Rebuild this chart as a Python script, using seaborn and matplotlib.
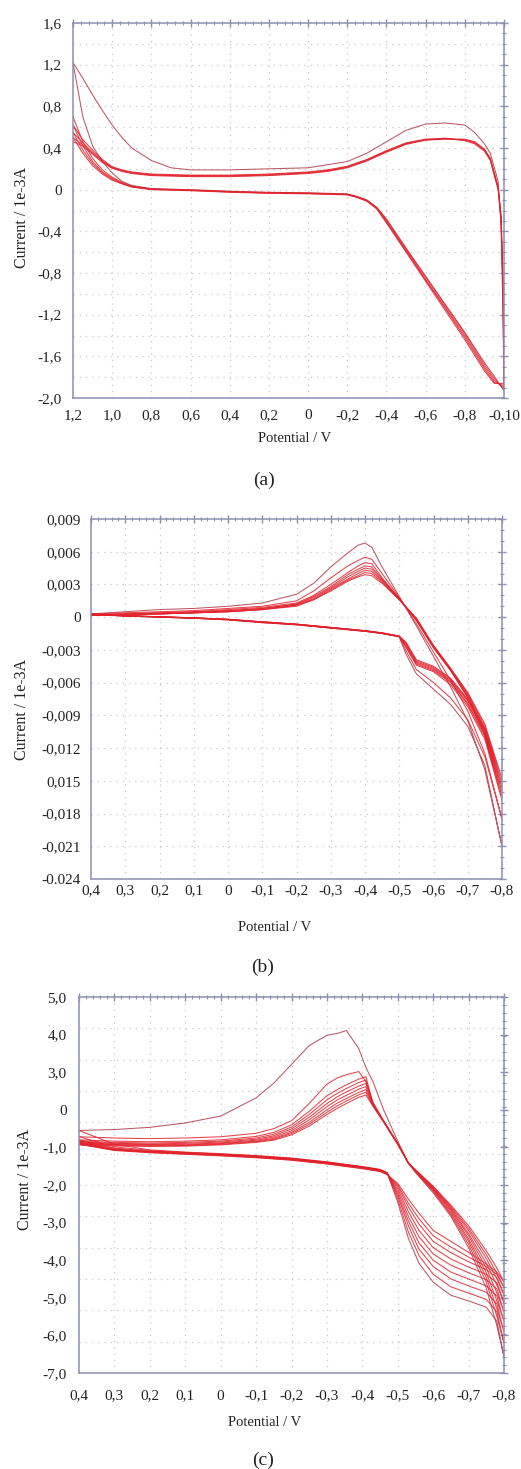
import matplotlib
matplotlib.use("Agg")
import matplotlib.pyplot as plt
from matplotlib.ticker import FixedLocator, MultipleLocator
import numpy as np
import pandas as pd
import seaborn as sns

# ---------------- panel (a) ----------------
A_X_FWD = [1.2, 1.15, 1.1, 1.05, 1.0, 0.95, 0.9, 0.8, 0.6, 0.4, 0.2, 0.0,
           -0.2, -0.25, -0.3, -0.35, -0.4, -0.5, -0.6, -0.7, -0.8, -0.9, -0.95, -1.0]
A_X_REV = [-1.0, -0.995, -0.985, -0.97, -0.93, -0.9, -0.85, -0.8, -0.7, -0.6, -0.5,
           -0.4, -0.3, -0.2, -0.1, 0.0, 0.2, 0.4, 0.6, 0.7, 0.8, 0.85, 0.9, 0.95,
           1.0, 1.05, 1.1, 1.15, 1.2]
A_FWD = [
    [1.22, 0.70, 0.42, 0.27, 0.16, 0.08, 0.04, 0.01, 0.0, -0.015, -0.025, -0.03,
     -0.04, -0.065, -0.10, -0.17, -0.28, -0.56, -0.83, -1.10, -1.37, -1.66, -1.79, -1.93],
    [0.70, 0.46, 0.30, 0.19, 0.12, 0.07, 0.035, 0.008, -0.003, -0.018, -0.028, -0.033,
     -0.043, -0.068, -0.10, -0.17, -0.29, -0.57, -0.84, -1.11, -1.38, -1.68, -1.81, -1.92],
    [0.62, 0.42, 0.27, 0.17, 0.11, 0.065, 0.03, 0.005, -0.005, -0.02, -0.03, -0.035,
     -0.045, -0.07, -0.105, -0.175, -0.30, -0.58, -0.86, -1.13, -1.40, -1.70, -1.83, -1.90],
    [0.55, 0.38, 0.25, 0.16, 0.10, 0.06, 0.028, 0.003, -0.007, -0.022, -0.032, -0.037,
     -0.047, -0.072, -0.11, -0.18, -0.31, -0.59, -0.87, -1.14, -1.42, -1.72, -1.85, -1.88],
    [0.50, 0.35, 0.23, 0.15, 0.09, 0.055, 0.025, 0.0, -0.01, -0.025, -0.035, -0.04,
     -0.05, -0.075, -0.11, -0.185, -0.32, -0.60, -0.88, -1.16, -1.44, -1.74, -1.86, -1.86],
]
A_REV = [
    [-1.93, -1.2, -0.35, 0.08, 0.35, 0.44, 0.55, 0.62, 0.64, 0.63, 0.57, 0.46, 0.35,
     0.27, 0.24, 0.21, 0.20, 0.19, 0.19, 0.21, 0.28, 0.34, 0.40, 0.50, 0.62, 0.76, 0.91, 1.07, 1.22],
    [-1.92, -1.0, -0.30, 0.0, 0.28, 0.37, 0.44, 0.47, 0.495, 0.485, 0.45, 0.375, 0.29,
     0.225, 0.19, 0.17, 0.15, 0.14, 0.14, 0.145, 0.15, 0.16, 0.17, 0.19, 0.22, 0.29, 0.38, 0.48, 0.62],
    [-1.90, -0.95, -0.28, 0.01, 0.29, 0.38, 0.45, 0.475, 0.49, 0.48, 0.445, 0.37, 0.285,
     0.22, 0.185, 0.165, 0.145, 0.135, 0.135, 0.14, 0.145, 0.155, 0.165, 0.185, 0.215, 0.28, 0.36, 0.45, 0.55],
    [-1.88, -0.90, -0.26, 0.02, 0.30, 0.385, 0.455, 0.48, 0.488, 0.478, 0.44, 0.365, 0.28,
     0.215, 0.18, 0.16, 0.14, 0.13, 0.13, 0.135, 0.14, 0.15, 0.16, 0.18, 0.21, 0.27, 0.35, 0.43, 0.50],
    [-1.86, -0.85, -0.25, 0.03, 0.30, 0.39, 0.46, 0.485, 0.485, 0.475, 0.435, 0.36, 0.275,
     0.21, 0.175, 0.155, 0.135, 0.125, 0.125, 0.13, 0.135, 0.145, 0.155, 0.175, 0.205, 0.26, 0.34, 0.42, 0.46],
]
A_XTICKS = [1.2, 1.0, 0.8, 0.6, 0.4, 0.2, 0.0, -0.2, -0.4, -0.6, -0.8, -1.0]
A_XLABELS = ["1,2", "1,0", "0,8", "0,6", "0,4", "0,2", "0", "-0,2", "-0,4", "-0,6", "-0,8", "-0,10"]
A_YTICKS = [1.6, 1.2, 0.8, 0.4, 0.0, -0.4, -0.8, -1.2, -1.6, -2.0]
A_YLABELS = ["1,6", "1,2", "0,8", "0,4", "0", "-0,4", "-0,8", "-1,2", "-1,6", "-2,0"]

# ---------------- panel (b) ----------------
B_X_FWD = [0.4, 0.3, 0.2, 0.1, 0.0, -0.1, -0.2, -0.3, -0.4, -0.45, -0.5,
           -0.52, -0.55, -0.6, -0.65, -0.7, -0.75, -0.8]
B_X_REV = [-0.8, -0.75, -0.7, -0.65, -0.6, -0.55, -0.5, -0.45, -0.42, -0.4, -0.38,
           -0.35, -0.3, -0.25, -0.2, -0.1, 0.0, 0.1, 0.2, 0.3, 0.4]
B_FWD = [
    [0.0003, 0.0001, 0.0, -0.0001, -0.00025, -0.0005, -0.0007, -0.0010, -0.0013, -0.0015, -0.0018,
     -0.0034, -0.0052, -0.0066, -0.0080, -0.0100, -0.0136, -0.0210],
    [0.0003, 0.0001, 0.0, -0.0001, -0.00025, -0.0005, -0.0007, -0.0010, -0.0013, -0.0015, -0.0018,
     -0.0031, -0.0048, -0.0060, -0.0074, -0.0094, -0.0128, -0.0185],
    [0.0003, 0.00012, 0.00002, -0.00008, -0.00022, -0.00047, -0.00068, -0.00098, -0.00128, -0.00148, -0.00178,
     -0.0028, -0.0044, -0.0050, -0.0062, -0.0082, -0.0112, -0.0168],
    [0.0002, 0.00012, 0.00002, -0.00008, -0.00022, -0.00046, -0.00067, -0.00097, -0.00127, -0.00147, -0.00177,
     -0.0027, -0.0043, -0.0049, -0.0060, -0.0080, -0.0110, -0.0164],
    [0.0002, 0.00013, 0.00003, -0.00007, -0.00021, -0.00045, -0.00066, -0.00096, -0.00126, -0.00146, -0.00176,
     -0.0026, -0.0042, -0.0048, -0.0059, -0.0079, -0.0108, -0.0160],
    [0.0002, 0.00013, 0.00003, -0.00007, -0.0002, -0.00044, -0.00065, -0.00095, -0.00125, -0.00145, -0.00175,
     -0.0025, -0.0041, -0.0047, -0.0058, -0.0077, -0.0106, -0.0156],
    [0.0002, 0.00014, 0.00004, -0.00006, -0.0002, -0.00043, -0.00064, -0.00094, -0.00124, -0.00144, -0.00174,
     -0.0024, -0.0040, -0.0046, -0.0057, -0.0076, -0.0104, -0.0152],
    [0.0002, 0.00014, 0.00004, -0.00006, -0.00019, -0.00042, -0.00063, -0.00093, -0.00123, -0.00143, -0.00173,
     -0.0023, -0.0039, -0.0045, -0.0056, -0.0075, -0.0102, -0.0148],
]
B_REV = [
    [-0.0210, -0.0140, -0.0095, -0.0064, -0.0036, -0.0008, 0.0019, 0.0046, 0.0064, 0.0068, 0.0066,
     0.0059, 0.0046, 0.0031, 0.0021, 0.0013, 0.0010, 0.0008, 0.0007, 0.0005, 0.0003],
    [-0.0185, -0.0125, -0.0086, -0.0058, -0.0032, -0.0006, 0.0018, 0.0040, 0.0053, 0.0055, 0.0052,
     0.0047, 0.0036, 0.0024, 0.0015, 0.0010, 0.0008, 0.0006, 0.0005, 0.0004, 0.0003],
    [-0.0168, -0.0108, -0.0074, -0.0049, -0.0028, -0.0003, 0.0017, 0.0036, 0.0049, 0.0050, 0.0047,
     0.0041, 0.0030, 0.0020, 0.0013, 0.0009, 0.0007, 0.0005, 0.0004, 0.0003, 0.0002],
    [-0.0164, -0.0106, -0.0073, -0.0049, -0.0028, -0.0003, 0.0017, 0.0035, 0.0046, 0.0047, 0.0044,
     0.0039, 0.0028, 0.0019, 0.0012, 0.0008, 0.0006, 0.0005, 0.0004, 0.0003, 0.0002],
    [-0.0160, -0.0104, -0.0072, -0.0048, -0.0027, -0.0002, 0.0017, 0.0034, 0.0044, 0.0045, 0.0042,
     0.0037, 0.0027, 0.0018, 0.0012, 0.0008, 0.0006, 0.0004, 0.0003, 0.0003, 0.0002],
    [-0.0156, -0.0102, -0.0071, -0.0048, -0.0027, -0.0002, 0.0016, 0.0033, 0.0042, 0.0043, 0.0040,
     0.0035, 0.0026, 0.0017, 0.0011, 0.0007, 0.0005, 0.0004, 0.0003, 0.0002, 0.0002],
    [-0.0152, -0.0100, -0.0070, -0.0047, -0.0026, -0.0001, 0.0016, 0.0032, 0.0040, 0.0041, 0.0038,
     0.0034, 0.0025, 0.0016, 0.0011, 0.0007, 0.0005, 0.0004, 0.0003, 0.0002, 0.0002],
    [-0.0148, -0.0098, -0.0069, -0.0047, -0.0026, -0.0001, 0.0016, 0.0031, 0.0038, 0.0039, 0.0037,
     0.0033, 0.0024, 0.0016, 0.0010, 0.0007, 0.0005, 0.0004, 0.0003, 0.0002, 0.0002],
]
B_XTICKS = [0.4, 0.3, 0.2, 0.1, 0.0, -0.1, -0.2, -0.3, -0.4, -0.5, -0.6, -0.7, -0.8]
B_XLABELS = ["0,4", "0,3", "0,2", "0,1", "0", "-0,1", "-0,2", "-0,3", "-0,4", "-0,5", "-0,6", "-0,7", "-0,8"]
B_YTICKS = [0.009, 0.006, 0.003, 0.0, -0.003, -0.006, -0.009, -0.012, -0.015, -0.018, -0.021, -0.024]
B_YLABELS = ["0,009", "0,006", "0,003", "0", "-0,003", "-0,006", "-0,009", "-0,012",
             "0,015", "-0,018", "-0,021", "-0.024"]

# ---------------- panel (c) ----------------
C_X_FWD = [0.4, 0.3, 0.2, 0.1, 0.0, -0.1, -0.2, -0.3, -0.4, -0.45, -0.47,
           -0.5, -0.53, -0.56, -0.6, -0.65, -0.7, -0.75, -0.78, -0.8]
C_X_REV = [-0.8, -0.78, -0.75, -0.7, -0.65, -0.6, -0.55, -0.53, -0.5, -0.46, -0.43, -0.41,
           -0.39, -0.355, -0.33, -0.3, -0.25, -0.2, -0.15, -0.1, 0.0, 0.1, 0.2, 0.3, 0.4]
C_FWD = [
    [0.30, 0.12, 0.06, 0.02, -0.03, -0.08, -0.16, -0.28, -0.43, -0.52, -0.62,
     -1.55, -2.70, -3.50, -4.10, -4.52, -4.70, -4.90, -5.35, -6.48],
    [0.74, 0.30, 0.12, 0.05, 0.0, -0.06, -0.14, -0.26, -0.41, -0.50, -0.60,
     -1.45, -2.50, -3.25, -3.85, -4.25, -4.45, -4.65, -5.05, -6.05],
    [0.54, 0.22, 0.10, 0.04, -0.01, -0.07, -0.15, -0.27, -0.42, -0.51, -0.61,
     -1.35, -2.30, -3.05, -3.60, -4.00, -4.22, -4.42, -4.80, -5.70],
    [0.44, 0.18, 0.08, 0.03, -0.02, -0.08, -0.16, -0.28, -0.43, -0.52, -0.62,
     -1.28, -2.15, -2.85, -3.40, -3.78, -4.00, -4.22, -4.55, -5.35],
    [0.40, 0.16, 0.07, 0.02, -0.03, -0.09, -0.17, -0.29, -0.44, -0.53, -0.63,
     -1.20, -2.00, -2.65, -3.20, -3.56, -3.80, -4.02, -4.32, -5.05],
    [0.37, 0.14, 0.06, 0.01, -0.04, -0.10, -0.18, -0.30, -0.45, -0.54, -0.64,
     -1.12, -1.85, -2.45, -3.00, -3.36, -3.62, -3.85, -4.12, -4.75],
    [0.35, 0.13, 0.05, 0.0, -0.05, -0.11, -0.19, -0.31, -0.46, -0.55, -0.65,
     -1.05, -1.70, -2.25, -2.80, -3.16, -3.45, -3.70, -3.95, -4.50],
    [0.33, 0.12, 0.04, -0.01, -0.06, -0.12, -0.20, -0.32, -0.47, -0.56, -0.66,
     -1.00, -1.58, -2.08, -2.62, -2.98, -3.30, -3.60, -3.85, -4.28],
    [0.30, 0.10, 0.03, -0.02, -0.07, -0.13, -0.21, -0.33, -0.48, -0.57, -0.67,
     -0.95, -1.45, -1.90, -2.45, -2.80, -3.15, -3.52, -3.78, -4.10],
]
C_REV = [
    [-6.48, -5.50, -4.30, -3.00, -2.00, -1.25, -0.60, -0.30,
     0.40, 1.40, 2.30, 2.75, 3.35, 3.93, 3.84, 3.78, 3.45, 2.85, 2.25, 1.78, 1.20, 0.98, 0.84, 0.77, 0.74],
    [-6.05, -5.20, -4.10, -2.90, -1.95, -1.20, -0.58, -0.30,
     0.33, 1.05, 1.65, 2.30, 2.62, 2.52, 2.42, 2.22, 1.60, 1.05, 0.80, 0.65, 0.54, 0.50, 0.48, 0.50, 0.54],
    [-5.70, -4.95, -3.95, -2.80, -1.90, -1.18, -0.57, -0.30,
     0.32, 1.04, 1.60, 2.46, 2.38, 2.20, 2.05, 1.85, 1.35, 0.92, 0.68, 0.55, 0.44, 0.40, 0.38, 0.40, 0.44],
    [-5.35, -4.70, -3.80, -2.72, -1.85, -1.15, -0.56, -0.30,
     0.32, 1.04, 1.58, 2.35, 2.27, 2.08, 1.93, 1.72, 1.25, 0.85, 0.62, 0.50, 0.40, 0.36, 0.34, 0.36, 0.40],
    [-5.05, -4.45, -3.65, -2.62, -1.80, -1.12, -0.55, -0.30,
     0.31, 1.03, 1.56, 2.24, 2.16, 1.97, 1.82, 1.60, 1.16, 0.79, 0.57, 0.46, 0.37, 0.33, 0.31, 0.33, 0.37],
    [-4.75, -4.20, -3.50, -2.55, -1.76, -1.10, -0.54, -0.30,
     0.31, 1.03, 1.55, 2.14, 2.06, 1.86, 1.72, 1.50, 1.08, 0.73, 0.53, 0.43, 0.34, 0.30, 0.29, 0.31, 0.35],
    [-4.50, -4.00, -3.35, -2.45, -1.72, -1.08, -0.53, -0.30,
     0.30, 1.02, 1.54, 2.05, 1.96, 1.76, 1.62, 1.40, 1.00, 0.68, 0.49, 0.40, 0.32, 0.28, 0.27, 0.29, 0.33],
    [-4.28, -3.82, -3.22, -2.38, -1.68, -1.06, -0.52, -0.30,
     0.30, 1.02, 1.53, 1.96, 1.88, 1.68, 1.53, 1.32, 0.94, 0.64, 0.46, 0.38, 0.30, 0.26, 0.25, 0.27, 0.30],
    [-4.10, -3.65, -3.10, -2.30, -1.64, -1.04, -0.51, -0.30,
     0.30, 1.01, 1.52, 1.87, 1.80, 1.60, 1.45, 1.25, 0.88, 0.60, 0.43, 0.36, 0.28, 0.24, 0.23, 0.25, 0.28],
]
C_XTICKS = B_XTICKS
C_XLABELS = B_XLABELS
C_YLABELS = ["5,0", "4,0", "3,0", "0", "-1,0", "-2,0", "-3,0", "-4,0", "-5,0", "-6,0", "-7,0"]

W, H = 521, 1469
LINE_RED = "#e2222c"
LINE_DARK = "#b03a48"
SPINE = "#8c8fb2"
GRID = "#c6c7d0"


def cycles_frame(x_fwd, x_rev, fwd, rev):
    rows = []
    for k, (f, r) in enumerate(zip(fwd, rev)):
        xs = list(x_fwd) + list(x_rev)
        ys = list(f) + list(r)
        for i, (x, y) in enumerate(zip(xs, ys)):
            rows.append({"cycle": f"c{k + 1}", "step": i, "potential": x, "current": y})
    return pd.DataFrame(rows)


def draw_cycles(ax, df):
    names = list(dict.fromkeys(df["cycle"]))
    palette = {n: (LINE_DARK if i == 0 else LINE_RED) for i, n in enumerate(names)}
    sns.lineplot(data=df, x="potential", y="current", hue="cycle", palette=palette,
                 estimator=None, sort=False, lw=0.75, alpha=0.85, legend=False, ax=ax)


def px_axes(left, top, right, bottom):
    return [left / W, 1 - bottom / H, (right - left) / W, (bottom - top) / H]


def style_axes(ax, xminor, yminor, xpad, ypad):
    for s in ax.spines.values():
        s.set_color(SPINE)
        s.set_linewidth(1.1)
    ax.xaxis.set_minor_locator(MultipleLocator(xminor))
    ax.yaxis.set_minor_locator(MultipleLocator(yminor))
    ax.tick_params(which="both", direction="inout", color=SPINE, top=True, right=True,
                   labelcolor="#222222", labelsize=11)
    ax.tick_params(which="major", length=6, width=1.0)
    ax.tick_params(which="minor", length=3.5, width=0.8)
    ax.tick_params(axis="x", pad=xpad)
    ax.tick_params(axis="y", pad=ypad)
    ax.set_xlabel("")
    ax.set_ylabel("")


def dotted_grid(ax, xs, ys):
    for x in xs:
        ax.axvline(x, color=GRID, lw=0.9, ls=(0, (1, 4)), zorder=0)
    for y in ys:
        ax.axhline(y, color=GRID, lw=0.9, ls=(0, (1, 4)), zorder=0)


sns.set_theme(style="white")
plt.rcParams["font.family"] = ["Liberation Serif", "DejaVu Serif"]

fig = plt.figure(figsize=(W / 100, H / 100), dpi=100)
fig.patch.set_facecolor("white")

# (a)
ax_a = fig.add_axes(px_axes(73, 23, 504, 398))
draw_cycles(ax_a, cycles_frame(A_X_FWD, A_X_REV, A_FWD, A_REV))
ax_a.set_xlim(1.2, -1.0)
ax_a.set_ylim(-2.0, 1.6)
ax_a.xaxis.set_major_locator(FixedLocator(A_XTICKS))
ax_a.set_xticklabels(A_XLABELS)
ax_a.yaxis.set_major_locator(FixedLocator(A_YTICKS))
ax_a.set_yticklabels(A_YLABELS)
style_axes(ax_a, 0.04, 0.1, 5, 5)
dotted_grid(ax_a, A_XTICKS[1:-1], np.arange(-1.8, 1.5, 0.2))

# (b)
ax_b = fig.add_axes(px_axes(91, 519, 502, 879))
draw_cycles(ax_b, cycles_frame(B_X_FWD, B_X_REV, B_FWD, B_REV))
ax_b.set_xlim(0.4, -0.8)
ax_b.set_ylim(-0.024, 0.009)
ax_b.xaxis.set_major_locator(FixedLocator(B_XTICKS))
ax_b.set_xticklabels(B_XLABELS)
ax_b.yaxis.set_major_locator(FixedLocator(B_YTICKS))
ax_b.set_yticklabels(B_YLABELS)
style_axes(ax_b, 0.02, 0.001, 1, 4.5)
dotted_grid(ax_b, B_XTICKS[1:-1], B_YTICKS[1:-1])

# (c)
ax_c = fig.add_axes(px_axes(79, 997, 504, 1373))
draw_cycles(ax_c, cycles_frame(C_X_FWD, C_X_REV, C_FWD, C_REV))
ax_c.set_xlim(0.4, -0.8)
ax_c.set_ylim(-7, 5)
ax_c.xaxis.set_major_locator(FixedLocator(C_XTICKS))
ax_c.set_xticklabels(C_XLABELS)
ax_c.yaxis.set_major_locator(FixedLocator(np.linspace(5, -7, len(C_YLABELS))))
ax_c.set_yticklabels(C_YLABELS)
style_axes(ax_c, 0.02, 0.25, 9, 6)
dotted_grid(ax_c, C_XTICKS[1:-1], range(-6, 5))

# axis titles and panel letters
label_kw = dict(fontsize=10.5, color="#222222", ha="center", va="center")
for (x, y) in [(295, 439), (275, 927), (265, 1423)]:
    fig.text(x / W, 1 - y / H, "Potential / V", **label_kw)
for (x, y) in [(22, 218), (22, 710), (25, 1180)]:
    fig.text(x / W, 1 - y / H, "Current / 1e-3A", rotation=90, fontsize=11.5,
             color="#222222", ha="center", va="center")
for (x, y, s) in [(264, 480, "(a)"), (263, 967, "(b)"), (263, 1460, "(c)")]:
    fig.text(x / W, 1 - y / H, s, fontsize=14, color="#222222", ha="center", va="center")

fig.savefig("out.png", dpi=100, facecolor="white")
